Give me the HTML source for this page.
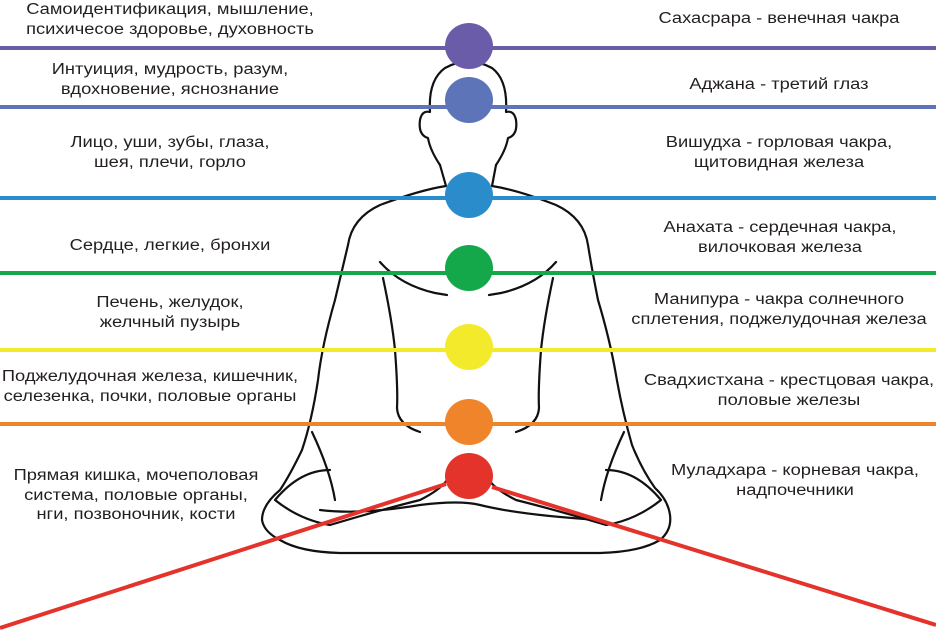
<!DOCTYPE html>
<html><head><meta charset="utf-8"><style>
body{margin:0;width:936px;height:631px;background:#fff;position:relative;overflow:hidden;font-family:"Liberation Sans",sans-serif;color:#231f20}
.t{position:absolute;width:420px;text-align:center;font-size:15.5px;line-height:19.5px;white-space:nowrap;transform:scaleX(1.18);transform-origin:50% 0}
svg{position:absolute;left:0;top:0}
</style></head><body>
<svg width="936" height="631" viewBox="0 0 936 631">
<g fill="none" stroke="#111" stroke-width="2.2" stroke-linecap="round" stroke-linejoin="round">
<path d="M440 165 Q430 150 428 138 Q418 135 420 120 Q422 110 430 112 Q428 80 445 68 Q468 55 492 68 Q508 80 506 112 Q514 110 516 120 Q518 135 508 138 Q506 150 496 165"/>
<path d="M440 165 L446 186 Q420 190 380 205 Q352 218 348 245 Q342 270 335 300 Q322 345 318 380 Q312 420 302 450 Q290 475 280 490 Q262 505 262 520 Q264 532 280 540 Q300 552 340 553 L600 553 Q640 552 660 540 Q672 530 670 515 Q668 500 655 488 Q642 470 632 445 Q622 410 616 375 Q610 340 598 300 Q592 270 588 245 Q584 218 556 205 Q518 190 492 186 L496 165"/>
<path d="M383 278 Q392 320 395 350 Q398 390 397 408 Q398 425 420 432"/>
<path d="M553 278 Q544 320 541 350 Q538 390 539 408 Q538 425 516 432"/>
<path d="M380 262 Q400 285 435 293 L447 295"/>
<path d="M556 262 Q536 285 501 293 L489 295"/>
<path d="M330 470 Q300 470 275 500 Q300 520 330 525 Q380 510 420 500 Q440 490 447 480"/>
<path d="M606 470 Q636 470 661 500 Q636 520 606 525 Q556 510 516 500 Q496 490 489 480"/>
<path d="M312 432 Q330 470 335 500"/>
<path d="M624 432 Q606 470 601 500"/>
<path d="M320 510 Q360 515 420 505 Q460 500 480 505 Q520 515 600 520"/>
</g>
<g stroke-width="4">
<line x1="0" y1="48" x2="936" y2="48" stroke="#6a5ca8"/>
<line x1="0" y1="107" x2="936" y2="107" stroke="#5d74b8"/>
<line x1="0" y1="198" x2="936" y2="198" stroke="#2a8ccb"/>
<line x1="0" y1="273" x2="936" y2="273" stroke="#14a84b"/>
<line x1="0" y1="350" x2="936" y2="350" stroke="#f4ea2c"/>
<line x1="0" y1="424" x2="936" y2="424" stroke="#f0842a"/>
<line x1="446" y1="484" x2="0" y2="628" stroke="#e4332a"/>
<line x1="492" y1="487" x2="936" y2="625" stroke="#e4332a"/>
</g>
<ellipse cx="469" cy="46" rx="24" ry="23" fill="#6a5ca8"/>
<ellipse cx="469" cy="100" rx="24" ry="23" fill="#5d74b8"/>
<ellipse cx="469" cy="195" rx="24" ry="23" fill="#2a8ccb"/>
<ellipse cx="469" cy="268" rx="24" ry="23" fill="#14a84b"/>
<ellipse cx="469" cy="347" rx="24" ry="23" fill="#f4ea2c"/>
<ellipse cx="469" cy="422" rx="24" ry="23" fill="#f0842a"/>
<ellipse cx="469" cy="476" rx="24" ry="23" fill="#e4332a"/>
</svg>
<div class="t" style="left:-40px;top:0">Самоидентификация, мышление,<br>психичесое здоровье, духовность</div>
<div class="t" style="left:-40px;top:60px">Интуиция, мудрость, разум,<br>вдохновение, яснознание</div>
<div class="t" style="left:-40px;top:133px">Лицо, уши, зубы, глаза,<br>шея, плечи, горло</div>
<div class="t" style="left:-40px;top:236px">Сердце, легкие, бронхи</div>
<div class="t" style="left:-40px;top:293px">Печень, желудок,<br>желчный пузырь</div>
<div class="t" style="left:-60px;top:367px">Поджелудочная железа, кишечник,<br>селезенка, почки, половые органы</div>
<div class="t" style="left:-74px;top:466px">Прямая кишка, мочеполовая<br>система, половые органы,<br>нги, позвоночник, кости</div>
<div class="t" style="left:569px;top:9px">Сахасрара - венечная чакра</div>
<div class="t" style="left:569px;top:75px">Аджана - третий глаз</div>
<div class="t" style="left:569px;top:133px">Вишудха - горловая чакра,<br>щитовидная железа</div>
<div class="t" style="left:570px;top:218px">Анахата - сердечная чакра,<br>вилочковая железа</div>
<div class="t" style="left:569px;top:290px">Манипура - чакра солнечного<br>сплетения, поджелудочная железа</div>
<div class="t" style="left:579px;top:371px">Свадхистхана - крестцовая чакра,<br>половые железы</div>
<div class="t" style="left:585px;top:461px">Муладхара - корневая чакра,<br>надпочечники</div>
</body></html>
